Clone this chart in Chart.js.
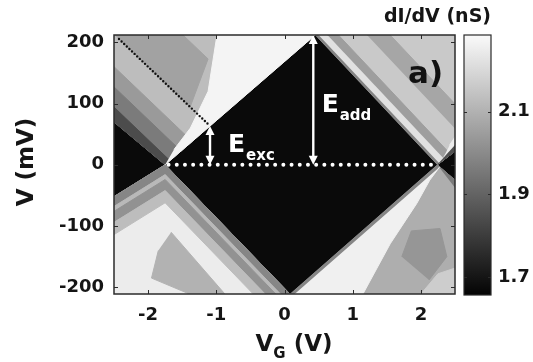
<!DOCTYPE html>
<html>
<head>
<meta charset="utf-8">
<script src="https://cdn.jsdelivr.net/npm/chart.js@4.4.1/dist/chart.umd.min.js"></script>
<style>
  html, body { margin: 0; padding: 0; background: #fff; }
  #wrap { position: relative; width: 533px; height: 362px; }
  #main { position: absolute; left: 0; top: 0; }
  #cbar { position: absolute; left: 455px; top: 0; }
</style>
</head>
<body>
<div id="wrap">
  <canvas id="main" width="533" height="362"></canvas>
  <canvas id="cbar" width="78" height="362"></canvas>
</div>
<script>
// Axes
const vgRange = [-2.5, 2.5];          // V_G (V)
const vRange = [-211, 212];           // V (mV)
const vgTicks = [-2, -1, 0, 1, 2];
const vTicks = [-200, -100, 0, 100, 200];

// Colour bar, dI/dV (nS)
const gRange = [1.657, 2.285];
const gTicks = [1.7, 1.9, 2.1];

// dI/dV map: polygons in (V_G, V) and their conductance.
// Drawn in this order, later ones on top.
const patchShapes = [
  // whole window, blockade level
  [[-2.6, -230], [2.6, -230], [2.6, 230], [-2.6, 230]],
  // upper left
  [[-2.6, 79.3], [-1.75, 0], [0.45, 212], [0.45, 230], [-2.6, 230]],
  [[-2.6, 170.9], [-1.353, 38.2], [-1.516, 22.5], [-2.6, 137.9]],
  [[-2.6, 137.9], [-1.516, 22.5], [-1.679, 6.85], [-2.6, 104.9]],
  [[-2.6, 104.9], [-1.679, 6.85], [-1.75, 0], [-2.6, 79.3]],
  [[-2.658, 230], [-1.658, 230], [-1.121, 172.9], [-1.384, 94.5]],
  [[-1.75, 0], [0.45, 212], [0.45, 230], [-0.99, 230], [-0.99, 212], [-1.12, 120], [-1.38, 60], [-1.62, 25]],
  // upper right
  [[0.45, 212], [0.45, 230], [2.6, 230], [2.6, 30.5], [2.24, 0]],
  [[0.45, 212], [0.50, 212], [2.27, 2.5], [2.24, 0]],
  [[0.50, 212], [0.63, 212], [2.345, 8.9], [2.27, 2.5]],
  [[0.63, 212], [0.79, 212], [2.439, 16.8], [2.345, 8.9]],
  [[1.21, 212], [1.55, 212], [2.6, 87.7], [2.6, 47.4]],
  [[2.33, 12], [2.6, 45], [2.6, 62], [2.42, 32]],
  [[2.24, 0], [2.6, 30.5], [2.6, 45]],
  // lower right
  [[2.24, 0], [2.6, -34.6], [2.6, -230], [0.08, -230], [0.08, -211]],
  [[2.24, 0], [2.6, -34.6], [2.6, -52]],
  [[0.08, -211], [0.15, -211], [2.275, -3.4], [2.24, 0]],
  [[0.15, -211], [1.15, -211], [1.55, -129], [1.94, -63], [2.13, -25], [2.275, -3.4]],
  [[1.72, -150], [1.86, -108], [2.28, -104], [2.38, -150], [2.12, -188]],
  [[2.0, -211], [2.25, -178], [2.6, -165], [2.6, -230], [2.0, -230]],
  // lower left
  [[-2.6, -58.9], [-1.75, 0], [0.08, -211], [0.08, -230], [-2.6, -230]],
  [[-2.6, -58.9], [-1.75, 0], [0.08, -211], [-0.059, -211], [-1.75, -16], [-2.6, -74.9]],
  [[-2.6, -74.9], [-1.75, -16], [-0.059, -211], [-0.128, -211], [-1.75, -24], [-2.6, -82.9]],
  [[-2.6, -82.9], [-1.75, -24], [-0.128, -211], [-0.284, -211], [-1.75, -42], [-2.6, -100.9]],
  [[-2.6, -100.9], [-1.75, -42], [-0.284, -211], [-0.458, -211], [-1.75, -62], [-2.6, -120.9]],
  [[-1.663, -110], [-0.874, -211], [-1.394, -211], [-1.95, -185], [-1.85, -140]]
];
const patchG = [
  1.672,
  2.13, 2.04, 1.96, 1.84, 2.06, 2.27,
  2.16, 1.98, 2.22, 2.05, 2.07, 2.25, 1.85,
  2.09, 1.96, 1.99, 2.26, 2.03, 2.17,
  2.25, 1.99, 2.12, 2.02, 2.13, 2.10
];

// Marks on top of the map
const exciteLine = [[-2.427, 205.5], [-1.092, 63.4]];
const zeroLine = [[-1.70, 0], [2.23, 0]];
const excArrow = [-1.092, 63.4, 0];
const addArrow = [0.422, 212, 0];
const noteText = ['E', 'E', 'a)'];
const noteSub = ['exc', 'add', ''];
const noteAt = [[-0.828, 20.9], [0.545, 86.7], [1.811, 134]];

const FONT = '"DejaVu Sans", sans-serif';
Chart.defaults.font.family = FONT;
Chart.defaults.font.weight = 'bold';
Chart.defaults.font.size = 18;
Chart.defaults.color = '#151515';

function grayFor(g) {
  const t = Math.min(1, Math.max(0, (g - gRange[0]) / (gRange[1] - gRange[0])));
  const c = Math.round(4 + 246 * t);
  return 'rgb(' + c + ',' + c + ',' + c + ')';
}

const toXY = pts => pts.map(p => ({ x: p[0], y: p[1] }));

const layers = patchShapes.map((shape, i) => ({
  data: toXY(shape),
  showLine: true,
  fill: 'shape',
  backgroundColor: grayFor(patchG[i]),
  borderColor: grayFor(patchG[i]),
  borderWidth: 1,
  borderJoinStyle: 'round',
  pointRadius: 0,
  tension: 0,
  clip: 0
}));

layers.push({
  data: toXY(exciteLine),
  showLine: true, fill: false,
  borderColor: '#111', borderWidth: 2.4,
  borderDash: [0, 3.6], borderCapStyle: 'round',
  pointRadius: 0, clip: 0
});
layers.push({
  data: toXY(zeroLine),
  showLine: true, fill: false,
  borderColor: '#fff', borderWidth: 4,
  borderDash: [0, 8.2], borderCapStyle: 'round',
  pointRadius: 0, clip: 0
});
// first dataset is drawn on top, so give the bottom layers the highest order
layers.forEach((d, i) => { d.order = layers.length - i; });

function drawArrow(ctx, x, yTop, yBot) {
  const head = 9, half = 4.5;
  ctx.strokeStyle = '#fff';
  ctx.fillStyle = '#fff';
  ctx.lineWidth = 2.4;
  ctx.beginPath();
  ctx.moveTo(x, yTop + head - 1);
  ctx.lineTo(x, yBot - head + 1);
  ctx.stroke();
  ctx.beginPath();
  ctx.moveTo(x, yTop); ctx.lineTo(x - half, yTop + head); ctx.lineTo(x + half, yTop + head);
  ctx.closePath(); ctx.fill();
  ctx.beginPath();
  ctx.moveTo(x, yBot); ctx.lineTo(x - half, yBot - head); ctx.lineTo(x + half, yBot - head);
  ctx.closePath(); ctx.fill();
}

const notes = {
  id: 'notes',
  afterDatasetsDraw(chart) {
    const { ctx, scales: { x, y } } = chart;
    ctx.save();
    drawArrow(ctx, x.getPixelForValue(excArrow[0]), y.getPixelForValue(excArrow[1]), y.getPixelForValue(excArrow[2]));
    drawArrow(ctx, x.getPixelForValue(addArrow[0]), y.getPixelForValue(addArrow[1]), y.getPixelForValue(addArrow[2]));

    ctx.textAlign = 'left';
    ctx.textBaseline = 'alphabetic';
    noteText.forEach((t, i) => {
      const px = x.getPixelForValue(noteAt[i][0]);
      const py = y.getPixelForValue(noteAt[i][1]);
      const big = noteSub[i] ? 25 : 31;
      ctx.fillStyle = noteSub[i] ? '#fff' : '#111';
      ctx.font = 'bold ' + big + 'px ' + FONT;
      ctx.fillText(t, px, py);
      if (noteSub[i]) {
        const w = ctx.measureText(t).width;
        ctx.font = 'bold 15px ' + FONT;
        ctx.fillText(noteSub[i], px + w + 1, py + 8);
      }
    });
    ctx.restore();
  },
  afterDraw(chart) {
    const { ctx, chartArea: a, scales: { x, y } } = chart;
    ctx.save();
    // frame and inner ticks
    ctx.strokeStyle = '#2b2b2b';
    ctx.lineWidth = 1.5;
    ctx.strokeRect(a.left, a.top, a.right - a.left, a.bottom - a.top);
    ctx.lineWidth = 1;
    ctx.beginPath();
    vgTicks.forEach(v => {
      const p = Math.round(x.getPixelForValue(v)) + 0.5;
      ctx.moveTo(p, a.bottom); ctx.lineTo(p, a.bottom - 4);
      ctx.moveTo(p, a.top); ctx.lineTo(p, a.top + 4);
    });
    vTicks.forEach(v => {
      const p = Math.round(y.getPixelForValue(v)) + 0.5;
      ctx.moveTo(a.left, p); ctx.lineTo(a.left + 4, p);
      ctx.moveTo(a.right, p); ctx.lineTo(a.right - 4, p);
    });
    ctx.stroke();

    // axis titles
    ctx.fillStyle = '#151515';
    ctx.font = 'bold 23px ' + FONT;
    ctx.save();
    ctx.translate(27, 162);
    ctx.rotate(-Math.PI / 2);
    ctx.textAlign = 'center';
    ctx.textBaseline = 'middle';
    ctx.fillText('V (mV)', 0, 0);
    ctx.restore();

    ctx.textAlign = 'left';
    ctx.textBaseline = 'alphabetic';
    const wV = ctx.measureText('V').width;
    const wRest = ctx.measureText(' (V)').width;
    ctx.font = 'bold 15px ' + FONT;
    const wG = ctx.measureText('G').width;
    const left = 294 - (wV + wG + wRest) / 2;
    ctx.font = 'bold 23px ' + FONT;
    ctx.fillText('V', left, 351);
    ctx.font = 'bold 15px ' + FONT;
    ctx.fillText('G', left + wV, 358);
    ctx.font = 'bold 23px ' + FONT;
    ctx.fillText(' (V)', left + wV + wG, 351);

    // colour bar title
    ctx.font = 'bold 19px ' + FONT;
    ctx.textAlign = 'right';
    ctx.fillText('dI/dV (nS)', 491, 22);
    ctx.restore();
  }
};

new Chart(document.getElementById('main'), {
  type: 'scatter',
  data: { datasets: layers },
  options: {
    responsive: false,
    animation: false,
    devicePixelRatio: 1,
    events: [],
    layout: { padding: { left: 0, right: 78, top: 35, bottom: 0 } },
    plugins: { legend: { display: false }, tooltip: { enabled: false } },
    scales: {
      x: {
        type: 'linear',
        min: vgRange[0], max: vgRange[1],
        afterBuildTicks: s => { s.ticks = vgTicks.map(v => ({ value: v })); },
        afterFit: s => { s.height = 68; },
        grid: { display: false, drawTicks: false },
        border: { display: false },
        ticks: { padding: 11, maxRotation: 0, autoSkip: false }
      },
      y: {
        type: 'linear',
        min: vRange[0], max: vRange[1],
        afterBuildTicks: s => { s.ticks = vTicks.map(v => ({ value: v })); },
        afterFit: s => { s.width = 114; },
        grid: { display: false, drawTicks: false },
        border: { display: false },
        ticks: { padding: 10, autoSkip: false }
      }
    }
  },
  plugins: [notes]
});

// Colour bar
const cbFrame = {
  id: 'cbFrame',
  afterDraw(chart) {
    const { ctx, chartArea: a, scales: { y } } = chart;
    ctx.save();
    ctx.strokeStyle = '#2b2b2b';
    ctx.lineWidth = 1.2;
    ctx.strokeRect(a.left, a.top, a.right - a.left, a.bottom - a.top);
    ctx.lineWidth = 1;
    ctx.beginPath();
    gTicks.forEach(v => {
      const p = Math.round(y.getPixelForValue(v)) + 0.5;
      ctx.moveTo(a.left, p); ctx.lineTo(a.left + 3, p);
      ctx.moveTo(a.right, p); ctx.lineTo(a.right - 3, p);
    });
    ctx.stroke();
    ctx.restore();
  }
};

new Chart(document.getElementById('cbar'), {
  type: 'bar',
  data: {
    labels: ['dI/dV'],
    datasets: [{
      data: [gRange],
      backgroundColor: c => {
        const a = c.chart.chartArea;
        if (!a) return grayFor((gRange[0] + gRange[1]) / 2);
        const gr = c.chart.ctx.createLinearGradient(0, a.bottom, 0, a.top);
        gr.addColorStop(0, grayFor(gRange[0]));
        gr.addColorStop(1, grayFor(gRange[1]));
        return gr;
      },
      borderWidth: 0,
      barPercentage: 1,
      categoryPercentage: 1
    }]
  },
  options: {
    responsive: false,
    animation: false,
    devicePixelRatio: 1,
    events: [],
    layout: { padding: { left: 9, right: 0, top: 35, bottom: 67 } },
    plugins: { legend: { display: false }, tooltip: { enabled: false } },
    scales: {
      x: { display: false },
      y: {
        position: 'right',
        min: gRange[0], max: gRange[1],
        afterBuildTicks: s => { s.ticks = gTicks.map(v => ({ value: v })); },
        afterFit: s => { s.width = 42; },
        grid: { display: false, drawTicks: false },
        border: { display: false },
        ticks: { padding: 7, autoSkip: false }
      }
    }
  },
  plugins: [cbFrame]
});
</script>
</body>
</html>
